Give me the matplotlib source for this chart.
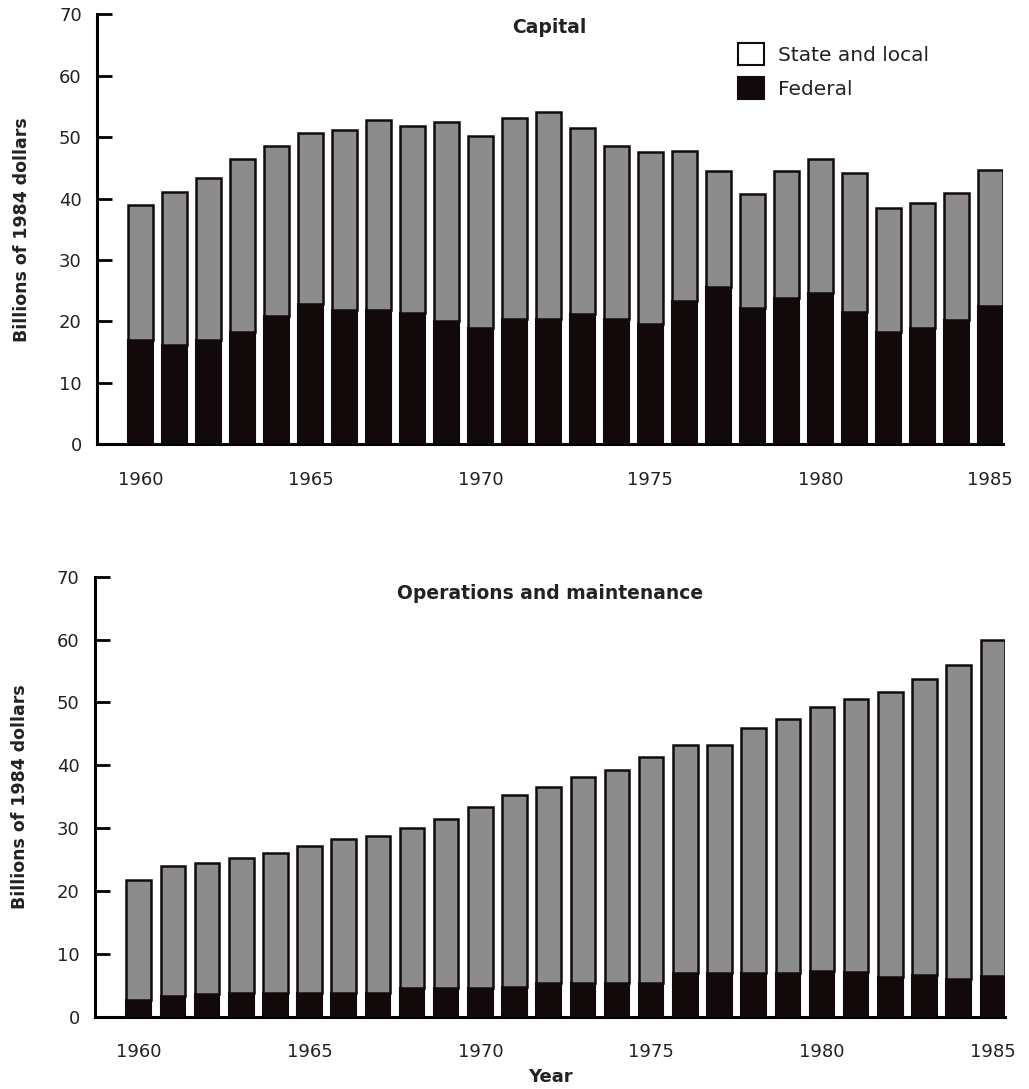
import matplotlib
matplotlib.use("Agg")
import matplotlib.pyplot as plt
from matplotlib.patches import Patch

plt.rcParams['font.family'] = ['DejaVu Sans']

years = list(range(1960, 1986))

capital_total = [39.0, 41.0, 43.3, 46.5, 48.5, 50.6, 51.1, 52.8, 51.8, 52.4, 50.2, 53.1, 54.1,
                 51.5, 48.6, 47.6, 47.7, 44.5, 40.7, 44.5, 46.5, 44.2, 38.5, 39.3, 40.9, 44.6]
capital_federal = [17.0, 16.2, 17.0, 18.2, 20.9, 22.8, 21.8, 21.9, 21.4, 20.0, 19.0, 20.4, 20.4,
                   21.2, 20.4, 19.6, 23.3, 25.6, 22.2, 23.8, 24.6, 21.5, 18.2, 19.0, 20.3, 22.5]
om_total = [21.8, 23.9, 24.4, 25.3, 26.0, 27.1, 28.2, 28.8, 30.1, 31.4, 33.3, 35.2, 36.6,
            38.1, 39.3, 41.3, 43.3, 43.3, 46.0, 47.3, 49.2, 50.5, 51.7, 53.7, 56.0, 59.9]
om_federal = [2.7, 3.3, 3.6, 3.8, 3.7, 3.7, 3.8, 3.8, 4.6, 4.6, 4.5, 4.8, 5.3,
              5.3, 5.3, 5.3, 7.0, 7.0, 7.0, 6.9, 7.2, 7.1, 6.3, 6.6, 6.0, 6.5]

xtick_years = [1960, 1965, 1970, 1975, 1980, 1985]
yticks = [0, 10, 20, 30, 40, 50, 60, 70]

GRAY = '#8c8c8c'
BLACK = '#120a0a'
TXT = '#222222'

fig = plt.figure(figsize=(10.29, 10.89), dpi=100)
ax1 = fig.add_axes([0.0943, 0.592, 0.880, 0.395])
ax2 = fig.add_axes([0.0923, 0.0664, 0.8845, 0.404])


def draw(ax, total, fed, title, ty):
    state = [t - f for t, f in zip(total, fed)]
    ax.bar(years, fed, width=0.72, color=BLACK, edgecolor=BLACK, linewidth=1.5, zorder=3)
    ax.bar(years, state, bottom=fed, width=0.72, color=GRAY, edgecolor=BLACK,
           linewidth=1.8, zorder=3)
    ax.set_xlim(1958.72, 1985.36)
    ax.set_ylim(0, 70)
    ax.set_yticks(yticks)
    ax.set_xticks(xtick_years)
    ax.spines['top'].set_visible(False)
    ax.spines['right'].set_visible(False)
    ax.spines['left'].set_linewidth(2.2)
    ax.spines['bottom'].set_linewidth(2.2)
    ax.tick_params(axis='y', direction='in', length=11, width=2.0, labelsize=13, pad=11,
                   labelcolor=TXT)
    ax.tick_params(axis='x', length=0, labelsize=13, pad=19, labelcolor=TXT)
    ax.set_ylabel('Billions of 1984 dollars', fontsize=12.5, fontweight='bold', labelpad=20,
                  color=TXT)
    ax.text(0.5, ty, title, transform=ax.transAxes, ha='center', va='center',
            fontsize=13.5, fontweight='bold', color=TXT)


draw(ax1, capital_total, capital_federal, 'Capital', 0.968)
draw(ax2, om_total, om_federal, 'Operations and maintenance', 0.963)

handles = [Patch(facecolor='white', edgecolor=BLACK, linewidth=1.5, label='State and local'),
           Patch(facecolor=BLACK, edgecolor=BLACK, linewidth=1.5, label='Federal')]
leg = ax1.legend(handles=handles, loc='upper left', bbox_to_anchor=(0.688, 0.975), frameon=False,
                 fontsize=14.5, handlelength=1.3, handleheight=1.3, handletextpad=0.7,
                 labelspacing=0.62)
for t in leg.get_texts():
    t.set_color(TXT)

ax2.set_xlabel('Year', fontsize=13, fontweight='bold', labelpad=5, color=TXT)

fig.savefig('out.png', dpi=100)
